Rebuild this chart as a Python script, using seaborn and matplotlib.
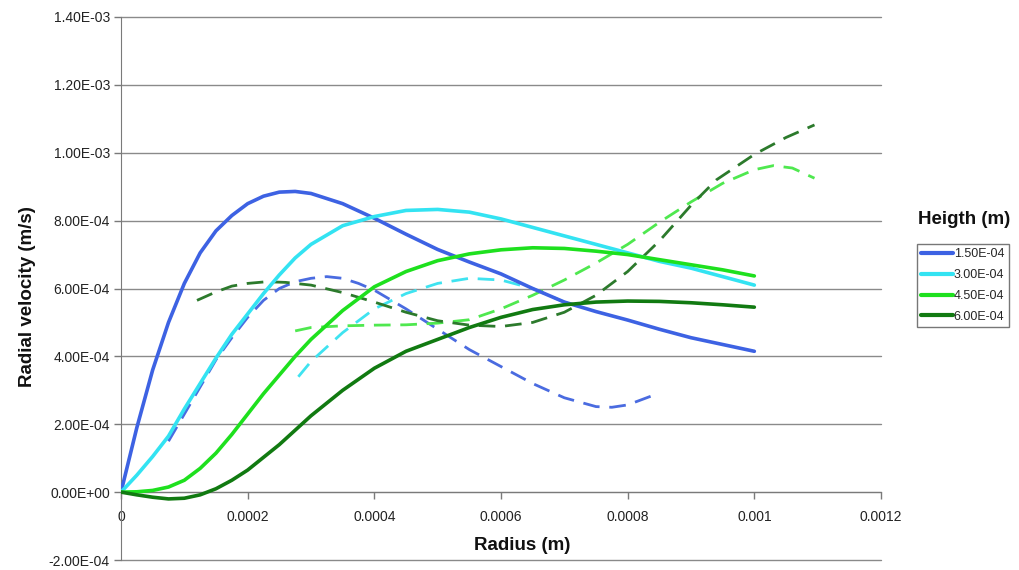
import matplotlib
matplotlib.use('Agg')
import matplotlib.pyplot as plt
import numpy as np
import pandas as pd
import seaborn as sns
from matplotlib.lines import Line2D

sns.set_style('white')
plt.rcParams['font.family'] = ['Liberation Sans', 'DejaVu Sans']

# ---------------- data ----------------
heights = ['1.50E-04', '3.00E-04', '4.50E-04', '6.00E-04']

s1_x = [0, 2.5e-5, 5e-5, 7.5e-5, 1e-4, 1.25e-4, 1.5e-4, 1.75e-4, 2e-4, 2.25e-4, 2.5e-4, 2.75e-4, 3e-4,
        3.5e-4, 4e-4, 4.5e-4, 5e-4, 5.5e-4, 6e-4, 6.5e-4, 7e-4, 7.5e-4, 8e-4, 8.5e-4, 9e-4, 9.5e-4, 1e-3]
s1_y = [0, 1.9e-4, 3.6e-4, 5.0e-4, 6.15e-4, 7.05e-4, 7.7e-4, 8.15e-4, 8.5e-4, 8.72e-4, 8.84e-4, 8.86e-4, 8.8e-4,
        8.5e-4, 8.07e-4, 7.6e-4, 7.15e-4, 6.78e-4, 6.43e-4, 6.0e-4, 5.6e-4, 5.32e-4, 5.07e-4, 4.8e-4, 4.55e-4, 4.35e-4, 4.15e-4]

s2_x = [0, 2.5e-5, 5e-5, 7.5e-5, 1e-4, 1.25e-4, 1.5e-4, 1.75e-4, 2e-4, 2.25e-4, 2.5e-4, 2.75e-4, 3e-4,
        3.5e-4, 4e-4, 4.5e-4, 5e-4, 5.5e-4, 6e-4, 6.5e-4, 7e-4, 7.5e-4, 8e-4, 8.5e-4, 9e-4, 9.5e-4, 1e-3]
s2_y = [0, 5e-5, 1.05e-4, 1.65e-4, 2.45e-4, 3.2e-4, 3.95e-4, 4.65e-4, 5.25e-4, 5.85e-4, 6.4e-4, 6.9e-4, 7.3e-4,
        7.85e-4, 8.12e-4, 8.3e-4, 8.33e-4, 8.25e-4, 8.05e-4, 7.8e-4, 7.55e-4, 7.3e-4, 7.05e-4, 6.8e-4, 6.6e-4, 6.35e-4, 6.1e-4]

s3_x = [0, 2.5e-5, 5e-5, 7.5e-5, 1e-4, 1.25e-4, 1.5e-4, 1.75e-4, 2e-4, 2.25e-4, 2.5e-4, 2.75e-4, 3e-4,
        3.5e-4, 4e-4, 4.5e-4, 5e-4, 5.5e-4, 6e-4, 6.5e-4, 7e-4, 7.5e-4, 8e-4, 8.5e-4, 9e-4, 9.5e-4, 1e-3]
s3_y = [0, 1e-6, 5e-6, 1.5e-5, 3.5e-5, 7e-5, 1.15e-4, 1.7e-4, 2.3e-4, 2.9e-4, 3.45e-4, 4.0e-4, 4.5e-4,
        5.35e-4, 6.05e-4, 6.5e-4, 6.82e-4, 7.02e-4, 7.14e-4, 7.2e-4, 7.18e-4, 7.1e-4, 7.0e-4, 6.85e-4, 6.7e-4, 6.55e-4, 6.37e-4]

s4_x = [0, 2.5e-5, 5e-5, 7.5e-5, 1e-4, 1.25e-4, 1.5e-4, 1.75e-4, 2e-4, 2.5e-4, 3e-4,
        3.5e-4, 4e-4, 4.5e-4, 5e-4, 5.5e-4, 6e-4, 6.5e-4, 7e-4, 7.5e-4, 8e-4, 8.5e-4, 9e-4, 9.5e-4, 1e-3]
s4_y = [0, -8e-6, -1.5e-5, -2e-5, -1.8e-5, -8e-6, 1e-5, 3.5e-5, 6.5e-5, 1.4e-4, 2.25e-4,
        3.0e-4, 3.65e-4, 4.15e-4, 4.5e-4, 4.85e-4, 5.15e-4, 5.38e-4, 5.52e-4, 5.6e-4, 5.63e-4, 5.62e-4, 5.58e-4, 5.52e-4, 5.45e-4]

# dashed companion curves (no legend entries)
d1_x = [7.5e-5, 1e-4, 1.25e-4, 1.5e-4, 1.75e-4, 2e-4, 2.25e-4, 2.5e-4, 2.75e-4, 3e-4, 3.25e-4, 3.5e-4, 3.75e-4,
        4e-4, 4.5e-4, 5e-4, 5.5e-4, 6e-4, 6.5e-4, 7e-4, 7.5e-4, 7.75e-4, 8e-4, 8.4e-4]
d1_y = [1.5e-4, 2.3e-4, 3.1e-4, 3.9e-4, 4.55e-4, 5.15e-4, 5.65e-4, 6.0e-4, 6.2e-4, 6.3e-4, 6.35e-4, 6.3e-4, 6.15e-4,
        5.95e-4, 5.4e-4, 4.8e-4, 4.2e-4, 3.7e-4, 3.2e-4, 2.78e-4, 2.52e-4, 2.5e-4, 2.57e-4, 2.85e-4]

d2_x = [2.8e-4, 3e-4, 3.5e-4, 4e-4, 4.5e-4, 5e-4, 5.5e-4, 6e-4, 6.5e-4, 7e-4, 7.15e-4]
d2_y = [3.4e-4, 3.85e-4, 4.7e-4, 5.4e-4, 5.85e-4, 6.15e-4, 6.3e-4, 6.25e-4, 6.0e-4, 5.6e-4, 5.5e-4]

d3_x = [2.75e-4, 3e-4, 3.5e-4, 4e-4, 4.5e-4, 5e-4, 5.5e-4, 6e-4, 6.5e-4, 7e-4, 7.5e-4, 8e-4, 8.5e-4,
        9e-4, 9.5e-4, 1e-3, 1.03e-3, 1.06e-3, 1.095e-3]
d3_y = [4.75e-4, 4.85e-4, 4.9e-4, 4.92e-4, 4.93e-4, 4.98e-4, 5.08e-4, 5.4e-4, 5.8e-4, 6.25e-4, 6.75e-4, 7.3e-4, 7.95e-4,
        8.55e-4, 9.1e-4, 9.5e-4, 9.62e-4, 9.55e-4, 9.25e-4]

d4_x = [1.2e-4, 1.5e-4, 1.75e-4, 2e-4, 2.3e-4, 2.6e-4, 3e-4, 3.5e-4, 4e-4, 4.5e-4, 5e-4, 5.5e-4, 6e-4,
        6.5e-4, 7e-4, 7.5e-4, 8e-4, 8.5e-4, 9e-4, 9.4e-4, 1e-3, 1.05e-3, 1.095e-3]
d4_y = [5.65e-4, 5.9e-4, 6.07e-4, 6.15e-4, 6.2e-4, 6.18e-4, 6.1e-4, 5.88e-4, 5.6e-4, 5.3e-4, 5.05e-4, 4.92e-4, 4.88e-4,
        5.0e-4, 5.3e-4, 5.8e-4, 6.5e-4, 7.4e-4, 8.45e-4, 9.2e-4, 9.95e-4, 1.045e-3, 1.082e-3]

x_ticks = [0, 0.0002, 0.0004, 0.0006, 0.0008, 0.001, 0.0012]
x_tick_labels = ['0', '0.0002', '0.0004', '0.0006', '0.0008', '0.001', '0.0012']
y_ticks = [-2e-4, 0, 2e-4, 4e-4, 6e-4, 8e-4, 1e-3, 1.2e-3, 1.4e-3]

# ---------------- styles ----------------
solid_colors = ['#3D62E3', '#33E3F2', '#1EE01E', '#117A11']
dash_colors = ['#4A6BE0', '#3FE3F0', '#4FE84F', '#2C7A2C']

fig = plt.figure(figsize=(10.2, 5.7), dpi=100)
ax = fig.add_axes([121/1020, 10/570, 760/1020, 543/570])

solids = [(s1_x, s1_y), (s2_x, s2_y), (s3_x, s3_y), (s4_x, s4_y)]
dashed = [(d1_x, d1_y), (d2_x, d2_y), (d3_x, d3_y), (d4_x, d4_y)]

for (xs, ys), c in zip(dashed, dash_colors):
    df = pd.DataFrame({'x': xs, 'y': ys})
    sns.lineplot(data=df, x='x', y='y', ax=ax, color=c, lw=2.0, sort=False,
                 estimator=None, zorder=3)
    ax.lines[-1].set_dashes([6, 3.5])

for (xs, ys), c, h in zip(solids, solid_colors, heights):
    df = pd.DataFrame({'x': xs, 'y': ys})
    sns.lineplot(data=df, x='x', y='y', ax=ax, color=c, lw=2.6, sort=False,
                 estimator=None, zorder=4)

ax.set_xlim(0, 0.0012)
ax.set_ylim(-2e-4, 1.4e-3)
ax.set_xticks(x_ticks)
ax.set_xticklabels(x_tick_labels)
ax.set_yticks(y_ticks)
ax.set_yticklabels([f'{v:.2E}' for v in y_ticks])

ax.grid(axis='y', color='#8a8a8a', lw=1.0)
ax.grid(axis='x', visible=False)
ax.set_axisbelow(True)
for gl in ax.get_ygridlines():
    gl.set_clip_on(False)

for s in ['top', 'right']:
    ax.spines[s].set_visible(False)
ax.spines['bottom'].set_position(('data', 0))
ax.spines['bottom'].set_color('#7a7a7a')
ax.spines['left'].set_color('#7a7a7a')
ax.spines['bottom'].set_zorder(2)
ax.tick_params(axis='x', direction='out', length=5, width=1, color='#7a7a7a',
               labelsize=10, labelcolor='#222222', pad=8, bottom=True)
ax.tick_params(axis='y', direction='out', length=5, width=1, color='#7a7a7a',
               labelsize=10, labelcolor='#222222', pad=3, left=True)

ax.set_xlabel('')
ax.set_ylabel('')
ax.text(0.528, 0.026, 'Radius (m)', transform=ax.transAxes, ha='center', va='center',
        fontsize=13.5, fontweight='bold', color='#111111')
fig.text(28/1020, 1 - 297/570, 'Radial velocity (m/s)', rotation=90, ha='center', va='center',
         fontsize=13.5, fontweight='bold', color='#111111')

fig.text(964/1020, 1 - 219/570, 'Heigth (m)', ha='center', va='center',
         fontsize=13.5, fontweight='bold', color='#111111')

handles = [Line2D([0], [0], color=c, lw=3) for c in solid_colors]
leg = fig.legend(handles, heights, loc='upper left', bbox_to_anchor=(917/1020, 1 - 244/570),
                 frameon=True, fontsize=9, handlelength=2.5, handletextpad=0.1,
                 labelspacing=0.7, borderpad=0.35, borderaxespad=0, fancybox=False)
leg.get_frame().set_edgecolor('#555555')
leg.get_frame().set_linewidth(1.0)

fig.savefig('out.png', dpi=100)
